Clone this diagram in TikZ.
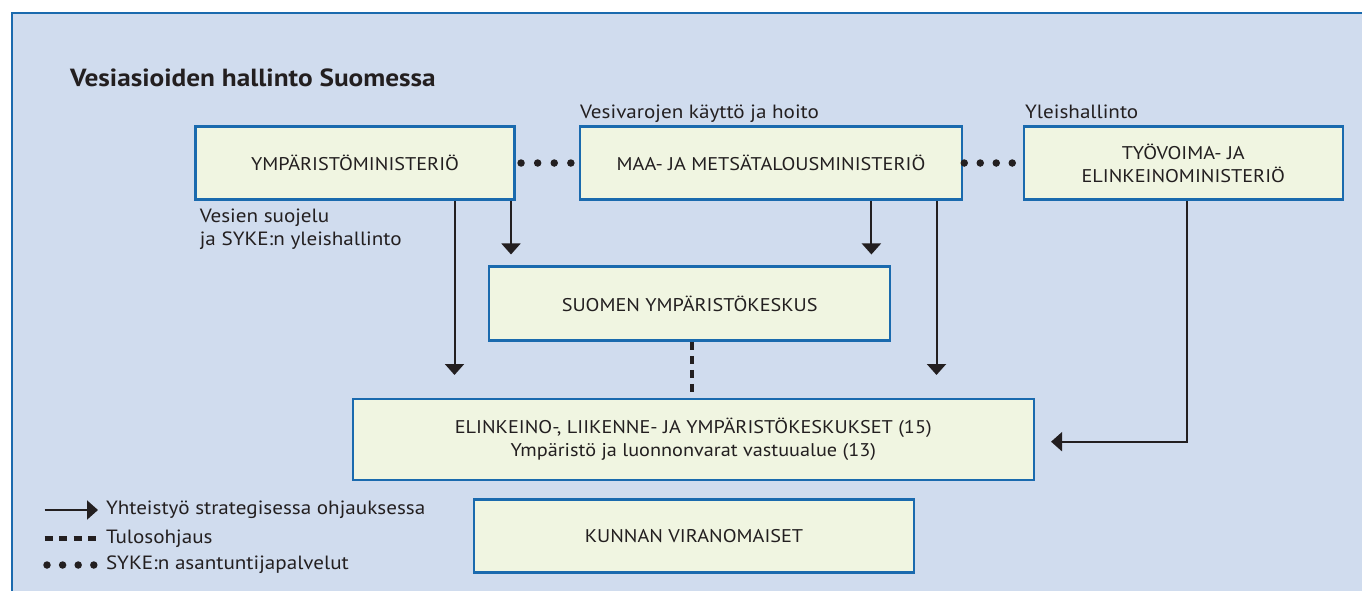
\documentclass[tikz,border=0pt]{standalone}
\usepackage{fontspec}
\setmainfont[FakeStretch=1.1]{PT Sans}
\usetikzlibrary{arrows.meta,calc}
\definecolor{bgblue}{HTML}{D0DCEE}
\definecolor{boxfill}{HTML}{F0F5E1}
\definecolor{edgeblue}{HTML}{1A6AAE}
\definecolor{ink}{HTML}{231F20}
\tikzset{
  box/.style={draw=edgeblue, line width=2.5pt, fill=boxfill, rectangle, inner sep=0pt,
    align=center, text=ink, font=\fontsize{18.4}{23}\selectfont},
  lbl/.style={text=ink, inner sep=0pt, font=\fontsize{19.2}{22.7}\selectfont},
  arr/.style={draw=ink, line width=2pt, -{Triangle[length=11pt,width=19pt]}},
  tulos/.style={draw=ink, line width=4.5pt, dash pattern=on 8pt off 6pt},
  dotline/.style={draw=ink, line width=7.5pt, line cap=round, dash pattern=on 0pt off 16.6pt},
}
\begin{document}
\begin{tikzpicture}[x=1pt,y=-1pt]
\useasboundingbox (0,0) rectangle (1362,590);
\fill[white] (0,0) rectangle (1362,590);
\fill[bgblue] (12,13) rectangle (1370,600);
\draw[edgeblue, line width=2.5pt] (12,600) -- (12,13) -- (1370,13);

\node[lbl, anchor=base west, font=\bfseries\fontsize{24.8}{28}\selectfont] (title) at (70,86) {Vesiasioiden hallinto Suomessa};

\node[box, minimum width=319pt, minimum height=73pt] (ym) at (355,163) {YMPÄRISTÖMINISTERIÖ};
\node[box, minimum width=382pt, minimum height=73pt] (mmm) at (771,163) {MAA- JA METSÄTALOUSMINISTERIÖ};
\node[box, minimum width=319pt, minimum height=73pt] (tem) at (1183.3,163) {TYÖVOIMA- JA\\ELINKEINOMINISTERIÖ};
\node[box, minimum width=401pt, minimum height=74pt] (syke) at (689.7,303.7) {SUOMEN YMPÄRISTÖKESKUS};
\node[box, minimum width=681pt, minimum height=81pt] (ely) at (693.3,439.3) {ELINKEINO-, LIIKENNE- JA YMPÄRISTÖKESKUKSET (15)\\Ympäristö ja luonnonvarat vastuualue (13)};
\node[box, minimum width=440pt, minimum height=73pt] (kunnan) at (694,536) {KUNNAN VIRANOMAISET};

\node[lbl, anchor=base west] (lvesi) at (580,118.3) {Vesivarojen käyttö ja hoito};
\node[lbl, anchor=base west] (lyleis) at (1025,118.3) {Yleishallinto};
\node[lbl, anchor=west, align=left] (lsuoj) at (199.6,229.5) {Vesien suojelu\\ja SYKE:n yleishallinto};

% connectors
\coordinate (t1) at (454.5,375);
\coordinate (t4) at (936.5,375);
\coordinate (x2) at (511,0);
\coordinate (x3) at (871.4,0);
\coordinate (xd) at (692,0);
\coordinate (bend) at (1187,441.7);
\draw[arr] (ym.south -| t1) -- (t1);
\draw[arr, shorten >=11pt] (ym.south -| x2) -- (syke.north -| x2);
\draw[arr, shorten >=11pt] (mmm.south -| x3) -- (syke.north -| x3);
\draw[arr] (mmm.south -| t4) -- (t4);
\draw[arr, shorten >=16pt] (tem.south -| bend) -- (bend) -- (ely.east |- bend);
\draw[tulos] (syke.south -| xd) -- (ely.north -| xd);
\draw[dotline, shorten <=5.3pt] (ym.east) -- ([xshift=0.5pt]mmm.west |- ym.east) ;
\draw[dotline, shorten <=1pt, dash pattern=on 0pt off 16pt] (mmm.east) -- (tem.west);

% legend
\coordinate (la1) at (44.6,510);
\coordinate (la2) at (98,510);
\coordinate (lb1) at (44.6,538.3);
\coordinate (lb2) at (98,538.3);
\coordinate (lc1) at (47,565);
\coordinate (lc2) at (94,565);
\draw[arr] (la1) -- (la2);
\draw[tulos, dash pattern=on 8pt off 6.5pt] (lb1) -- (lb2);
\draw[dotline, dash pattern=on 0pt off 15.6pt] (lc1) -- (lc2);
\node[lbl, anchor=west] (lega) at (105.8,510) {Yhteistyö strategisessa ohjauksessa};
\node[lbl, anchor=west] (legb) at (105.8,538.3) {Tulosohjaus};
\node[lbl, anchor=west] (legc) at (105.8,565) {SYKE:n asantuntijapalvelut};
\end{tikzpicture}
\end{document}
